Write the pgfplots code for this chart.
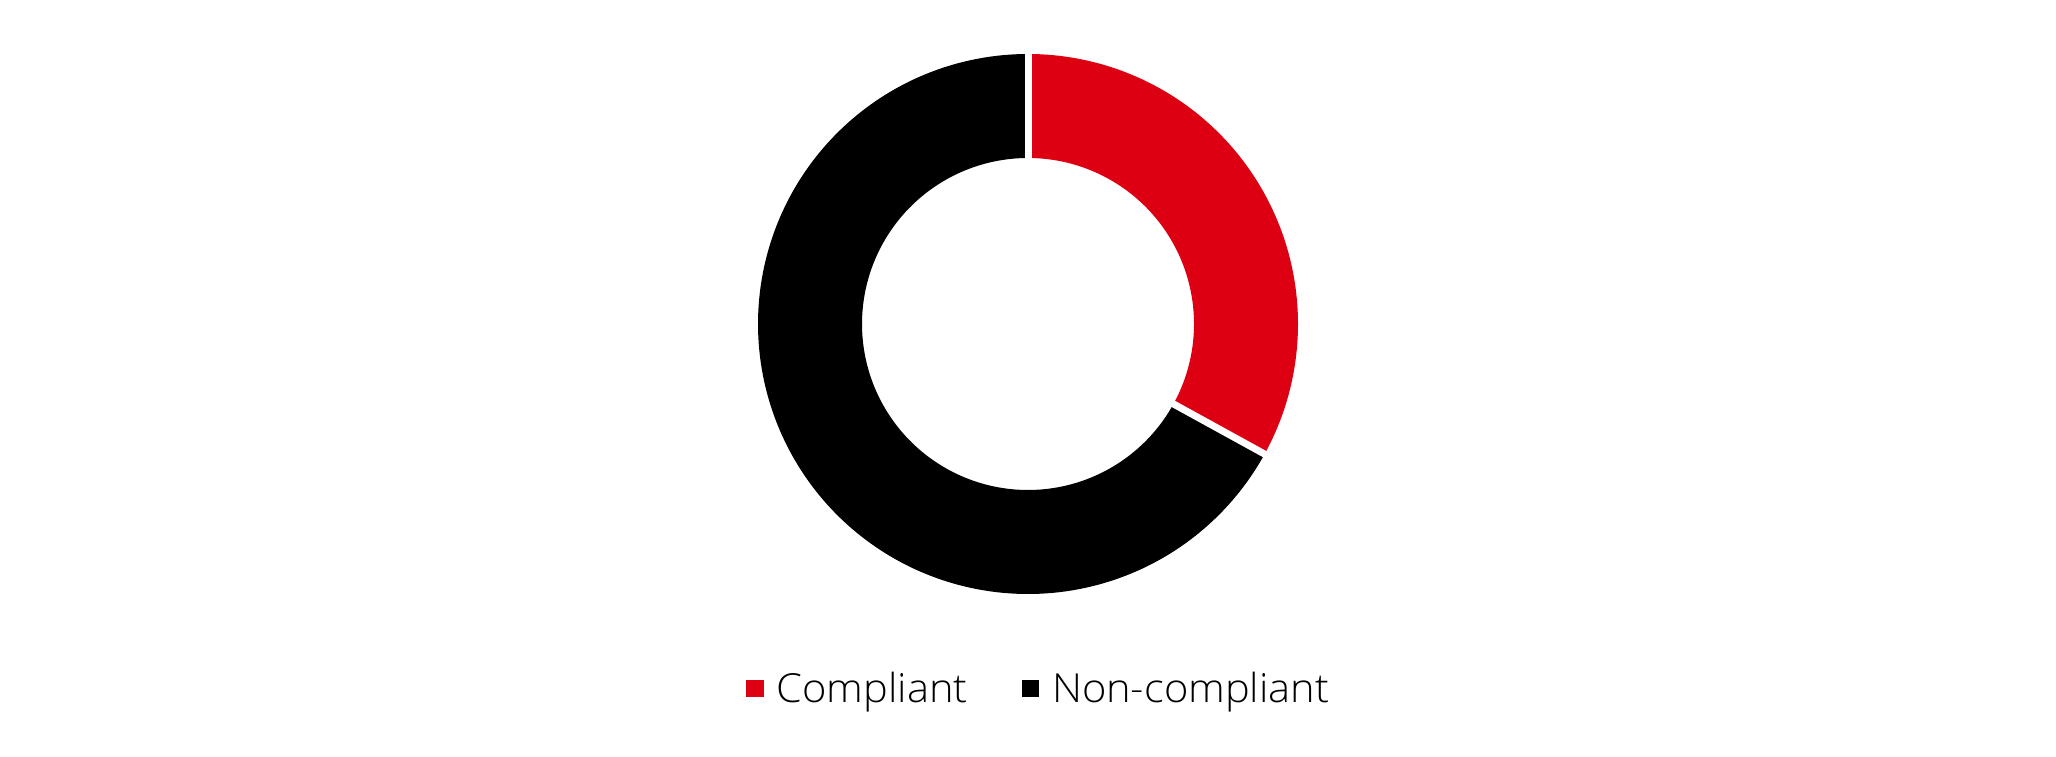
\documentclass[border=0pt]{standalone}
\usepackage{pgfplots}
\pgfplotsset{compat=1.18}
\usepackage{pgfplotstable}
\usepackage{fontspec}
\setmainfont{Open Sans}[UprightFont=* Light, FakeStretch=1.04]
\definecolor{cred}{RGB}{220,0,18}
\pgfplotstableread{
label value
Compliant 33
Non-compliant 67
}\datatable
\begin{document}
\begin{tikzpicture}
\pgfplotstablegetelem{0}{value}\of\datatable \let\vA\pgfplotsretval
\pgfplotstablegetelem{1}{value}\of\datatable \let\vB\pgfplotsretval
\pgfmathsetmacro\aA{90}
\pgfmathsetmacro\aB{90-360*\vA/(\vA+\vB)}
\pgfmathsetmacro\aC{90-360}
\def\Ro{270}
\def\Ri{166}
\begin{axis}[
  hide axis, scale only axis,
  width=2056pt, height=756pt,
  xmin=-1028, xmax=1028, ymin=-432, ymax=324,
  clip=false,
  legend columns=2,
  legend image code/.code={\fill[#1,draw=none] (0pt,-8.5pt) rectangle (17.5pt,8.5pt);},
  legend style={at={(axis cs:-282,-364.5)}, anchor=west, draw=none, fill=none,
    inner sep=0pt, outer sep=0pt,
    nodes={inner sep=0pt, anchor=west},
    font=\fontsize{40}{48}\selectfont,
    column sep=13pt,
    /tikz/every even column/.append style={column sep=54pt}},
]
\addplot[fill=cred, draw=none, domain=0:2, samples=401, variable=\t]
  ({(\Ri+(\Ro-\Ri)*(\t<=1))*cos(\aA+(\aB-\aA)*min(\t,2-\t))},
   {(\Ri+(\Ro-\Ri)*(\t<=1))*sin(\aA+(\aB-\aA)*min(\t,2-\t))});
\addlegendentry{Compliant}
\addplot[fill=black, draw=none, domain=0:2, samples=801, variable=\t]
  ({(\Ri+(\Ro-\Ri)*(\t<=1))*cos(\aB+(\aC-\aB)*min(\t,2-\t))},
   {(\Ri+(\Ro-\Ri)*(\t<=1))*sin(\aB+(\aC-\aB)*min(\t,2-\t))});
\addlegendentry{Non-compliant}
\addplot[white, line width=7pt, domain=\Ri-6:\Ro+6, samples=2, variable=\r, forget plot]
  ({\r*cos(\aA)},{\r*sin(\aA)});
\addplot[white, line width=7pt, domain=\Ri-6:\Ro+6, samples=2, variable=\r, forget plot]
  ({\r*cos(\aB)},{\r*sin(\aB)});
\path (axis cs:-1028,-432) rectangle (axis cs:1028,324);
\end{axis}
\end{tikzpicture}
\end{document}
